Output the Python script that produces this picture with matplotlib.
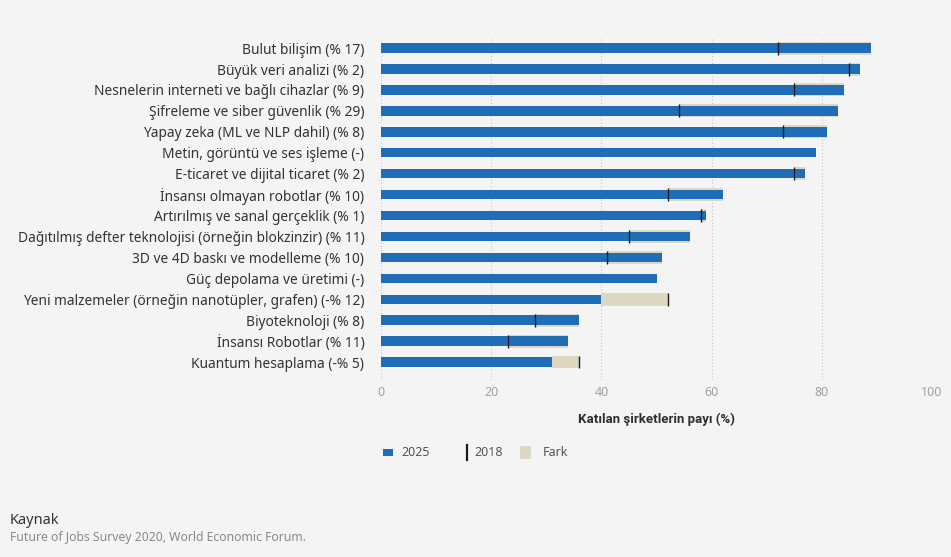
import matplotlib.pyplot as plt
from matplotlib.patches import Rectangle
from matplotlib.lines import Line2D

# Technology adoption by companies, 2025 vs 2018 (share of companies, %)
labels = [
    "Bulut bilişim (% 17)",
    "Büyük veri analizi (% 2)",
    "Nesnelerin interneti ve bağlı cihazlar (% 9)",
    "Şifreleme ve siber güvenlik (% 29)",
    "Yapay zeka (ML ve NLP dahil) (% 8)",
    "Metin, görüntü ve ses işleme (-)",
    "E-ticaret ve dijital ticaret (% 2)",
    "İnsansı olmayan robotlar (% 10)",
    "Artırılmış ve sanal gerçeklik (% 1)",
    "Dağıtılmış defter teknolojisi (örneğin blokzinzir) (% 11)",
    "3D ve 4D baskı ve modelleme (% 10)",
    "Güç depolama ve üretimi (-)",
    "Yeni malzemeler (örneğin nanotüpler, grafen) (-% 12)",
    "Biyoteknoloji (% 8)",
    "İnsansı Robotlar (% 11)",
    "Kuantum hesaplama (-% 5)",
]
values_2025 = [89, 87, 84, 83, 81, 79, 77, 62, 59, 56, 51, 50, 40, 36, 34, 31]
values_2018 = [72, 85, 75, 54, 73, None, 75, 52, 58, 45, 41, None, 52, 28, 23, 36]
xticks = [0, 20, 40, 60, 80, 100]
legend_labels = ["2025", "2018", "Fark"]

BLUE = "#1f6db6"
BEIGE = "#dcd8c2"
BG = "#f4f4f4"
MARK = "#1b1b1b"

plt.rcParams["font.family"] = ["Noto Sans", "DejaVu Sans"]

W, H = 951, 557
fig = plt.figure(figsize=(W / 100, H / 100), dpi=100, facecolor=BG)
ax = fig.add_axes([381 / W, 1 - 380 / H, 551 / W, 343 / H])
ax.set_facecolor(BG)

ypos = list(range(len(labels)))

# difference band between 2018 and 2025 (behind the 2025 bar)
for y, v25, v18 in zip(ypos, values_2025, values_2018):
    if v18 is None:
        continue
    lo, hi = min(v25, v18), max(v25, v18)
    ax.barh(y, hi - lo, left=lo, height=0.62, color=BEIGE, zorder=2)

ax.barh(ypos, values_2025, height=0.45, color=BLUE, zorder=3)

# 2018 markers
for y, v18 in zip(ypos, values_2018):
    if v18 is None:
        continue
    ax.vlines(v18, y - 0.31, y + 0.31, color=MARK, lw=1.0, zorder=4)

ax.set_xlim(0, 100)
ax.set_ylim(15.86, -0.53)
ax.set_xticks(xticks)
ax.set_xticklabels([str(t) for t in xticks], color="#a0a0a0", fontsize=9)
ax.set_yticks(ypos)
ax.set_yticklabels(labels, color="#333333", fontsize=9.9)
ax.tick_params(axis="both", length=0)
ax.tick_params(axis="y", pad=12)
ax.tick_params(axis="x", pad=4)
ax.grid(axis="x", linestyle=(0, (1, 2)), color="#c8c8c8", lw=0.8, zorder=1)
for s in ax.spines.values():
    s.set_visible(False)

ax.set_xlabel("Katılan şirketlerin payı (%)", fontsize=9.5, fontweight="bold",
              family=["Roboto", "DejaVu Sans"], color="#2e2e2e", labelpad=10)


# legend drawn by hand in pixel coordinates
def px(x, y):
    return x / W, 1 - y / H


fig.add_artist(Rectangle(px(383, 456), 10 / W, 7 / H, transform=fig.transFigure,
                         facecolor=BLUE, edgecolor="none"))
fig.add_artist(Line2D([467 / W, 467 / W], [1 - 445 / H, 1 - 460 / H],
                      transform=fig.transFigure, color=MARK, lw=1.6))
fig.add_artist(Rectangle(px(520, 459), 11 / W, 13 / H, transform=fig.transFigure,
                         facecolor=BEIGE, edgecolor="none"))
for x, txt in zip([401, 474, 543], legend_labels):
    fig.text(*px(x, 453), txt, fontsize=9, color="#555555", va="center")

fig.text(*px(10, 521), "Kaynak", fontsize=10.5, color="#333333", va="center")
fig.text(*px(10, 538), "Future of Jobs Survey 2020, World Economic Forum.",
         fontsize=8.8, color="#8a8a8a", va="center")

fig.savefig("out.png", dpi=100, facecolor=BG)
